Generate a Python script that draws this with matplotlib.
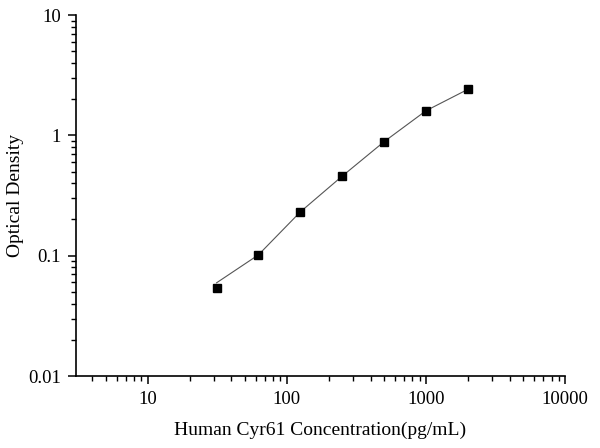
import matplotlib
matplotlib.use("Agg")
import matplotlib.pyplot as plt
from matplotlib.ticker import LogLocator, NullFormatter, FuncFormatter

plt.rcParams['font.family'] = ['Liberation Serif', 'DejaVu Serif']

# standard concentrations (pg/mL) and measured OD
conc = [31.25, 62.5, 125, 250, 500, 1000, 2000]
od = [0.054, 0.1016, 0.231, 0.458, 0.885, 1.60, 2.41]
# fitted curve, read at the same concentrations
fit_od = [0.0595, 0.1016, 0.231, 0.458, 0.885, 1.60, 2.41]

fig = plt.figure(figsize=(6, 4.48), dpi=100)
ax = fig.add_axes([0.1267, 0.1607, 0.815, 0.8058])

ax.plot(conc, fit_od, color='#555555', lw=0.8, zorder=2)
ax.plot(conc, od, 's', color='black', markersize=6, zorder=3)

ax.set_xscale('log')
ax.set_yscale('log')
ax.set_xlim(3.05, 10000)
ax.set_ylim(0.01, 10)

for s in ['top', 'right']:
    ax.spines[s].set_visible(False)
for s in ['left', 'bottom']:
    ax.spines[s].set_linewidth(1.2)

fmt = FuncFormatter(lambda v, p: ('%g' % v))
ax.xaxis.set_major_locator(LogLocator(base=10, numticks=10))
ax.xaxis.set_minor_locator(LogLocator(base=10, subs=range(2, 10), numticks=20))
ax.xaxis.set_major_formatter(fmt)
ax.xaxis.set_minor_formatter(NullFormatter())
ax.yaxis.set_major_locator(LogLocator(base=10, numticks=10))
ax.yaxis.set_minor_locator(LogLocator(base=10, subs=range(2, 10), numticks=20))
ax.yaxis.set_major_formatter(fmt)
ax.yaxis.set_minor_formatter(NullFormatter())

ax.tick_params(which='major', direction='out', length=6, width=1.1, labelsize=13.5, pad=5)
ax.tick_params(which='minor', direction='out', length=3.5, width=1.0)

ax.set_xlabel('Human Cyr61 Concentration(pg/mL)', fontsize=14, labelpad=10)
ax.set_ylabel('Optical Density', fontsize=14, labelpad=3)

fig.savefig('out.png', dpi=100)
